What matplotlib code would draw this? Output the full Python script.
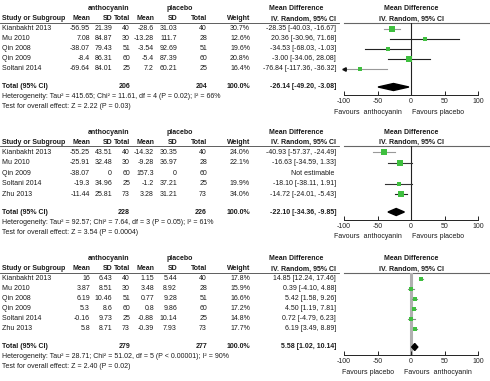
import matplotlib
matplotlib.use("Agg")
import matplotlib.pyplot as plt

plt.rcParams['font.family'] = ['Liberation Sans', 'DejaVu Sans']

# ---- panel 1 ----
p1_studies = ["Kianbakht 2013", "Mu 2010", "Qin 2008", "Qin 2009", "Soltani 2014"]
p1_a_mean = [-56.95, 7.08, -38.07, -8.4, -69.64]
p1_a_sd = [21.39, 84.87, 79.43, 86.31, 84.01]
p1_a_n = [40, 30, 51, 60, 25]
p1_p_mean = [-28.6, -13.28, -3.54, -5.4, 7.2]
p1_p_sd = [31.03, 111.7, 92.69, 87.39, 60.21]
p1_p_n = [40, 28, 51, 60, 25]
p1_weight = [30.7, 12.6, 19.6, 20.8, 16.4]
p1_md = [-28.35, 20.36, -34.53, -3.00, -76.84]
p1_lo = [-40.03, -30.96, -68.03, -34.06, -117.36]
p1_hi = [-16.67, 71.68, -1.03, 28.08, -36.32]
p1_total = [206, 204, -26.14, -49.20, -3.08]
p1_het = "Heterogeneity: Tau² = 415.65; Chi² = 11.61, df = 4 (P = 0.02); I² = 66%"
p1_test = "Test for overall effect: Z = 2.22 (P = 0.03)"

# ---- panel 2 ----
p2_studies = ["Kianbakht 2013", "Mu 2010", "Qin 2009", "Soltani 2014", "Zhu 2013"]
p2_a_mean = [-55.25, -25.91, -38.07, -19.3, -11.44]
p2_a_sd = [43.51, 32.48, 0, 34.96, 25.81]
p2_a_n = [40, 30, 60, 25, 73]
p2_p_mean = [-14.32, -9.28, 157.3, -1.2, 3.28]
p2_p_sd = [30.35, 36.97, 0, 37.21, 31.21]
p2_p_n = [40, 28, 60, 25, 73]
p2_weight = [24.0, 22.1, None, 19.9, 34.0]
p2_md = [-40.93, -16.63, None, -18.10, -14.72]
p2_lo = [-57.37, -34.59, None, -38.11, -24.01]
p2_hi = [-24.49, 1.33, None, 1.91, -5.43]
p2_total = [228, 226, -22.10, -34.36, -9.85]
p2_het = "Heterogeneity: Tau² = 92.57; Chi² = 7.64, df = 3 (P = 0.05); I² = 61%"
p2_test = "Test for overall effect: Z = 3.54 (P = 0.0004)"

# ---- panel 3 ----
p3_studies = ["Kianbakht 2013", "Mu 2010", "Qin 2008", "Qin 2009", "Soltani 2014", "Zhu 2013"]
p3_a_mean = [16, 3.87, 6.19, 5.3, -0.16, 5.8]
p3_a_sd = [6.43, 8.51, 10.46, 8.6, 9.73, 8.71]
p3_a_n = [40, 30, 51, 60, 25, 73]
p3_p_mean = [1.15, 3.48, 0.77, 0.8, -0.88, -0.39]
p3_p_sd = [5.44, 8.92, 9.28, 9.86, 10.14, 7.93]
p3_p_n = [40, 28, 51, 60, 25, 73]
p3_weight = [17.8, 15.9, 16.6, 17.2, 14.8, 17.7]
p3_md = [14.85, 0.39, 5.42, 4.50, 0.72, 6.19]
p3_lo = [12.24, -4.10, 1.58, 1.19, -4.79, 3.49]
p3_hi = [17.46, 4.88, 9.26, 7.81, 6.23, 8.89]
p3_total = [279, 277, 5.58, 1.02, 10.14]
p3_het = "Heterogeneity: Tau² = 28.71; Chi² = 51.02, df = 5 (P < 0.00001); I² = 90%"
p3_test = "Test for overall effect: Z = 2.40 (P = 0.02)"

ticks = [-100, -50, 0, 50, 100]

W, H = 490, 381
fig = plt.figure(figsize=(4.9, 3.81), dpi=100)
ax = fig.add_axes([0, 0, 1, 1])
ax.set_xlim(0, W)
ax.set_ylim(H, 0)
ax.axis('off')

fs = 5.0
tc = '#1a1a1a'
green = '#3fbf3f'
cols = [90, 112, 130, 154, 177, 207, 250, 336]   # right edges of table columns
fx0, fx1 = 344, 478                               # forest plot x extent (px)


def fmt(v):
    return f"{v:g}"


def draw_panel(y0, studies, am, asd, an, pm, psd, pn, wt, md, lo, hi, total,
               het, test, favours, line_cols, zero_style, step=10.0):
    # y0 = y of the column header row
    line_y = y0 + 4
    rows = [y0 + step * (i + 1) for i in range(len(studies))]
    tot_y = rows[-1] + 18
    axis_y = tot_y + 8

    kw = dict(fontsize=fs, color=tc, va='center')
    ax.text(109, y0 - 10, "anthocyanin", ha='center', fontweight='bold', **kw)
    ax.text(180, y0 - 10, "placebo", ha='center', fontweight='bold', **kw)
    ax.text(296, y0 - 10, "Mean Difference", ha='center', fontweight='bold', **kw)
    ax.text((fx0 + fx1) / 2, y0 - 10, "Mean Difference", ha='center', fontweight='bold', **kw)

    ax.text(2, y0, "Study or Subgroup", ha='left', fontweight='bold', **kw)
    for x, h in zip(cols[:7], ["Mean", "SD", "Total", "Mean", "SD", "Total", "Weight"]):
        ax.text(x, y0, h, ha='right', fontweight='bold', **kw)
    ax.text(cols[7], y0, "IV. Random, 95% CI", ha='right', fontweight='bold', **kw)
    ax.text((fx0 + fx1) / 2, y0, "IV. Random, 95% CI", ha='center', fontweight='bold', **kw)
    ax.plot([0, 339], [line_y, line_y], color='#444', lw=0.6)
    ax.plot([344, W], [line_y, line_y], color='#666', lw=0.8)

    for i, y in enumerate(rows):
        ax.text(2, y, studies[i], ha='left', **kw)
        vals = [fmt(am[i]), fmt(asd[i]), str(an[i]), fmt(pm[i]), fmt(psd[i]), str(pn[i])]
        for x, v in zip(cols[:6], vals):
            ax.text(x, y, v, ha='right', **kw)
        if wt[i] is None:
            ax.text(cols[7] - 2, y, "Not estimable", ha='right', **kw)
        else:
            ax.text(cols[6], y, f"{wt[i]:.1f}%", ha='right', **kw)
            ax.text(cols[7], y, f"{md[i]:.2f} [{lo[i]:.2f}, {hi[i]:.2f}]", ha='right', **kw)

    ax.text(2, tot_y, "Total (95% CI)", ha='left', fontweight='bold', **kw)
    ax.text(cols[2], tot_y, str(total[0]), ha='right', fontweight='bold', **kw)
    ax.text(cols[5], tot_y, str(total[1]), ha='right', fontweight='bold', **kw)
    ax.text(cols[6], tot_y, "100.0%", ha='right', fontweight='bold', **kw)
    ax.text(cols[7], tot_y, f"{total[2]:.2f} [{total[3]:.2f}, {total[4]:.2f}]",
            ha='right', fontweight='bold', **kw)
    ax.text(2, tot_y + 10, het, ha='left', **kw)
    ax.text(2, tot_y + 20, test, ha='left', **kw)

    # forest plot
    fa = fig.add_axes([fx0 / W, 1 - axis_y / H, (fx1 - fx0) / W, (axis_y - line_y) / H])
    fa.set_xlim(-100, 100)
    fa.set_ylim(axis_y, line_y)
    fa.patch.set_alpha(0)
    for s in ['top', 'left', 'right']:
        fa.spines[s].set_visible(False)
    fa.spines['bottom'].set_color('#222')
    fa.spines['bottom'].set_linewidth(0.7)
    fa.set_yticks([])
    fa.set_xticks(ticks)
    fa.set_xticklabels([str(t) for t in ticks])
    fa.tick_params(axis='x', direction='in', length=3, width=0.7, pad=2.5,
                   labelsize=fs, colors='#222')
    fa.axvline(0, color=zero_style[0], lw=zero_style[1], zorder=1)

    for i, y in enumerate(rows):
        if md[i] is None:
            continue
        l = max(lo[i], -100)
        r = min(hi[i], 100)
        fa.plot([l, r], [y, y], color=line_cols[i], lw=0.8, zorder=2, clip_on=False)
        if lo[i] < -100:
            fa.plot([-100], [y], marker='<', color='#111', ms=2.5, clip_on=False, zorder=3)
        side = 1.1 * wt[i] ** 0.5
        fa.plot([md[i]], [y], marker='s', ms=side * 0.72, color=green, mec=green,
                mew=0, zorder=4, clip_on=False)

    dh = 3.5
    fa.fill([total[3], total[2], total[4], total[2]],
            [tot_y, tot_y - dh, tot_y, tot_y + dh], color='black', zorder=5, clip_on=False)

    fy = axis_y + 17
    ax.text(fx0 + 24, fy, favours[0], ha='center', **kw)
    ax.text(fx0 + 94, fy, favours[1], ha='center', **kw)


draw_panel(19, p1_studies, p1_a_mean, p1_a_sd, p1_a_n, p1_p_mean, p1_p_sd, p1_p_n,
           p1_weight, p1_md, p1_lo, p1_hi, p1_total, p1_het, p1_test,
           ["Favours  anthocyanin", "Favours placebo"],
           ['#999', '#222', '#222', '#222', '#999'], ('#222', 0.8))
draw_panel(142, p2_studies, p2_a_mean, p2_a_sd, p2_a_n, p2_p_mean, p2_p_sd, p2_p_n,
           p2_weight, p2_md, p2_lo, p2_hi, p2_total, p2_het, p2_test,
           ["Favours  anthocyanin", "Favours placebo"],
           ['#999', '#333', '#333', '#333', '#222'], ('#222', 0.8), step=10.4)
draw_panel(269, p3_studies, p3_a_mean, p3_a_sd, p3_a_n, p3_p_mean, p3_p_sd, p3_p_n,
           p3_weight, p3_md, p3_lo, p3_hi, p3_total, p3_het, p3_test,
           ["Favours placebo", "Favours  anthocyanin"],
           ['#888'] * 6, ('#b0b0b0', 2.2))

fig.savefig("out.png", dpi=100)
